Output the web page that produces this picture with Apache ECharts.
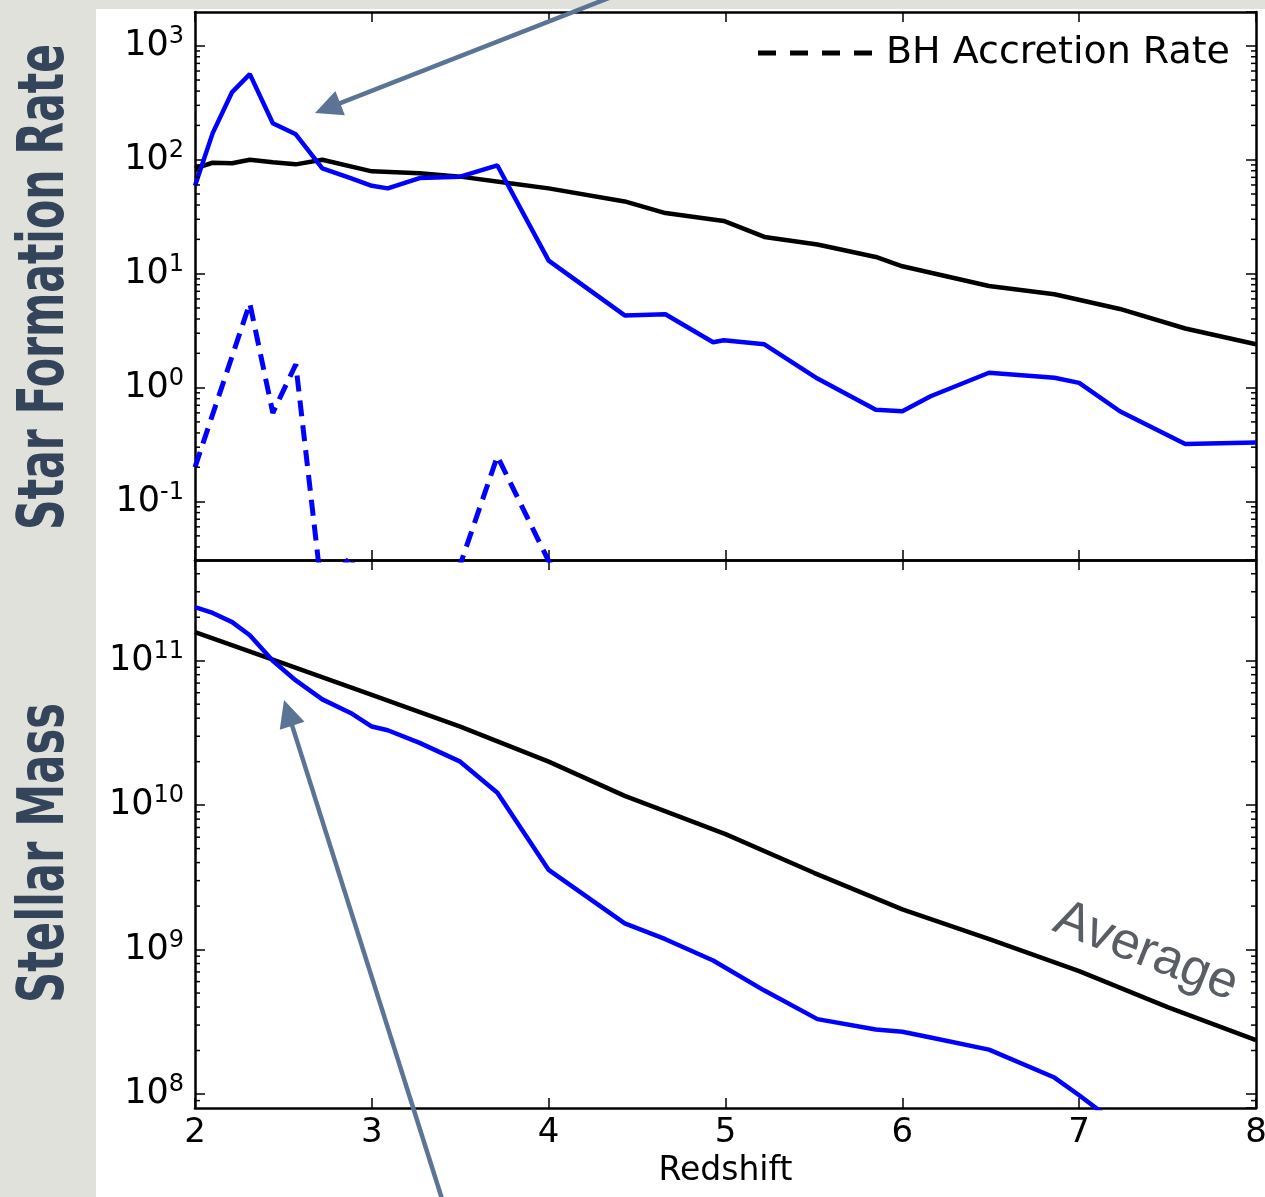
<!DOCTYPE html>
<html>
<head>
<meta charset="utf-8">
<script src="https://cdn.jsdelivr.net/npm/echarts@6/dist/echarts.min.js"></script>
<style>
  html, body { margin: 0; padding: 0; background: #ffffff; overflow: hidden; }
  #chart { width: 1265px; height: 1197px; }
</style>
</head>
<body>
<div id="chart"></div>
<script>
// ---------------- data ----------------
const sfrZ        = [2.0, 2.1, 2.21, 2.31, 2.44, 2.57, 2.72, 2.88, 3.0, 3.09, 3.27, 3.5, 3.71, 4.0, 4.43, 4.66, 4.93, 4.99, 5.22, 5.52, 5.85, 6.0, 6.16, 6.49, 6.86, 7.0, 7.23, 7.6, 8.0];
const sfrGalaxy   = [59, 171, 392, 563, 209, 167, 84, 69, 59, 56, 69, 71, 89, 13, 4.3, 4.4, 2.5, 2.6, 2.4, 1.2, 0.64, 0.62, 0.84, 1.35, 1.22, 1.1, 0.62, 0.32, 0.33];

const sfrAvgZ     = [2.0, 2.1, 2.21, 2.31, 2.44, 2.57, 2.72, 3.0, 3.27, 3.5, 3.78, 4.0, 4.43, 4.66, 4.99, 5.22, 5.52, 5.85, 6.0, 6.49, 6.86, 7.23, 7.6, 8.0];
const sfrAverage  = [84, 94, 93, 100, 95, 91, 100, 79, 76, 71, 62, 56, 43, 34, 29, 21, 18, 14, 11.6, 7.8, 6.6, 4.9, 3.3, 2.4];

const bhZ         = [2.0, 2.31, 2.44, 2.57, 2.72, 2.88, 3.0, 3.27, 3.5, 3.71, 4.0, 4.43];
const bhAccretion = [0.2, 5.5, 0.6, 1.6, 0.015, 0.033, 0.008, 0.004, 0.028, 0.25, 0.03, 0.003];

const massZ       = [2.0, 2.1, 2.21, 2.31, 2.44, 2.57, 2.72, 2.88, 3.0, 3.09, 3.27, 3.5, 3.71, 4.0, 4.43, 4.66, 4.93, 5.22, 5.52, 5.85, 6.0, 6.16, 6.49, 6.86, 7.0, 7.23];
const massGalaxy  = [2.35e11, 2.14e11, 1.85e11, 1.5e11, 1.0e11, 7.3e10, 5.4e10, 4.35e10, 3.5e10, 3.3e10, 2.7e10, 2.0e10, 1.22e10, 3.56e9, 1.52e9, 1.18e9, 8.4e8, 5.2e8, 3.3e8, 2.8e8, 2.7e8, 2.46e8, 2.03e8, 1.3e8, 9.8e7, 6e7];

const massAvgZ    = [2.0, 2.5, 3.0, 3.5, 4.0, 4.43, 5.0, 5.5, 6.0, 6.5, 7.0, 7.5, 8.0];
const massAverage = [1.58e11, 9.6e10, 5.8e10, 3.5e10, 2.0e10, 1.16e10, 6.3e9, 3.4e9, 1.9e9, 1.17e9, 7.1e8, 4.0e8, 2.36e8];

// axis ranges and ticks
const Z_MIN = 2, Z_MAX = 8;
const xTickLabels   = ['2', '3', '4', '5', '6', '7', '8'];
const sfrRange      = [0.0307, 1977];
const massRange     = [8.0e7, 4.98e11];
const sfrTickExps   = [-1, 0, 1, 2, 3];
const massTickExps  = [8, 9, 10, 11];
const minorMult     = [2, 3, 4, 5, 6, 7, 8, 9];
const sfrMinorDecs  = [-2, -1, 0, 1, 2, 3];
const massMinorDecs = [7, 8, 9, 10, 11];

const seriesNames = { bh: 'BH Accretion Rate' };
const panelLabels = ['Star Formation Rate', 'Stellar Mass'];
const averageLabel = 'Average';
const xName = 'Redshift';

// ---------------- helpers ----------------
const pairs = (xs, ys) => xs.map((x, i) => [x, ys[i]]);
const minorVals = (decs, range) => {
  const out = [];
  decs.forEach(d => minorMult.forEach(m => {
    const v = m * Math.pow(10, d);
    if (v > range[0] && v < range[1]) out.push([Z_MIN, v]);
  }));
  return out;
};

const FONT = 'DejaVu Sans';
const labelFmt = (exps) => (v) => {
  const l = Math.log10(v);
  const e = Math.round(l);
  if (Math.abs(l - e) > 1e-6 || exps.indexOf(e) < 0) return '';
  return '{b|10}{s|' + e + '}';
};
const richLab = {
  b: { fontSize: 35, fontFamily: FONT, color: '#000', lineHeight: 42 },
  s: { fontSize: 24, fontFamily: FONT, color: '#000', lineHeight: 24, verticalAlign: 'top' }
};

const axisLine = { show: true, lineStyle: { color: '#000', width: 2.5 } };
const tick = { show: true, inside: true, length: 10, lineStyle: { color: '#000', width: 1.5 } };

function xAx(grid, pos, showLabel, name) {
  return {
    type: 'value', gridIndex: grid, position: pos, min: Z_MIN, max: Z_MAX, interval: 1,
    axisLine, axisTick: tick, splitLine: { show: false },
    axisLabel: {
      show: showLabel, fontSize: 34, fontFamily: FONT, color: '#000', margin: 8,
      formatter: (v) => xTickLabels[Math.round(v - Z_MIN)] || ''
    },
    name: name || '', nameLocation: 'middle', nameGap: 47,
    nameTextStyle: { fontSize: 33, fontFamily: FONT, color: '#000' }
  };
}
function yAx(grid, pos, range, exps, showLabel) {
  return {
    type: 'log', logBase: 10, gridIndex: grid, position: pos, min: range[0], max: range[1],
    axisLine, axisTick: tick, splitLine: { show: false },
    axisLabel: {
      show: showLabel, showMinLabel: false, showMaxLabel: false, margin: 11,
      formatter: labelFmt(exps), rich: richLab
    }
  };
}

function minorTickRender(params, api) {
  const p = api.coord([api.value(0), api.value(1)]);
  const cs = params.coordSys;
  const st = { stroke: '#000', lineWidth: 1.5 };
  return {
    type: 'group', children: [
      { type: 'line', shape: { x1: cs.x, y1: p[1], x2: cs.x + 5, y2: p[1] }, style: st },
      { type: 'line', shape: { x1: cs.x + cs.width - 5, y1: p[1], x2: cs.x + cs.width, y2: p[1] }, style: st }
    ]
  };
}

// fit rotated side-label text to a target length
function fitScale(text, font, target) {
  const c = document.createElement('canvas').getContext('2d');
  c.font = font;
  const w = c.measureText(text).width;
  return w > 0 ? target / w : 1;
}
const sideFont = 'bold 64px "Liberation Sans Narrow", "DejaVu Sans Condensed", "Liberation Sans", sans-serif';

function arrow(tail, tip, headLen, headW, lw, color) {
  const dx = tip[0] - tail[0], dy = tip[1] - tail[1];
  const L = Math.hypot(dx, dy), ux = dx / L, uy = dy / L;
  const bx = tip[0] - ux * headLen, by = tip[1] - uy * headLen;
  const px = -uy, py = ux;
  return [
    { type: 'line', z: 50, shape: { x1: tail[0], y1: tail[1], x2: bx + ux * 4, y2: by + uy * 4 },
      style: { stroke: color, lineWidth: lw } },
    { type: 'polygon', z: 50, shape: { points: [tip, [bx + px * headW / 2, by + py * headW / 2], [bx - px * headW / 2, by - py * headW / 2]] },
      style: { fill: color } }
  ];
}

const ARROW = '#5b7496';
const BG = '#e1e1dc';
const SIDE = '#34445b';

// ---------------- chart ----------------
const chart = echarts.init(document.getElementById('chart'), null, { renderer: 'canvas' });
const gridBase = { left: 195, right: 9, height: 548, show: false, containLabel: false, outerBoundsMode: 'none' };
const option = {
  animation: false,
  backgroundColor: '#ffffff',
  grid: [
    Object.assign({ top: 12 }, gridBase),
    Object.assign({ top: 560 }, gridBase)
  ],
  xAxis: [
    xAx(0, 'bottom', false),
    xAx(0, 'top', false),
    xAx(1, 'bottom', true, xName),
    xAx(1, 'top', false)
  ],
  yAxis: [
    yAx(0, 'left', sfrRange, sfrTickExps, true),
    yAx(0, 'right', sfrRange, sfrTickExps, false),
    yAx(1, 'left', massRange, massTickExps, true),
    yAx(1, 'right', massRange, massTickExps, false)
  ],
  legend: {
    right: 30, top: 29, itemWidth: 120, itemHeight: 20, padding: 5,
    selectedMode: false,
    textStyle: { fontSize: 38, fontFamily: FONT, color: '#000', padding: [0, 0, 0, 3] },
    data: [{ name: seriesNames.bh, lineStyle: { color: '#000', width: 5, type: [18, 14] }, itemStyle: { color: '#000', opacity: 0 } }]
  },
  series: [
    { type: 'line', name: 'SFR average', xAxisIndex: 0, yAxisIndex: 0, data: pairs(sfrAvgZ, sfrAverage),
      symbol: 'none', lineStyle: { color: '#000', width: 4.5 }, z: 3 },
    { type: 'line', name: 'SFR galaxy', xAxisIndex: 0, yAxisIndex: 0, data: pairs(sfrZ, sfrGalaxy),
      symbol: 'none', lineStyle: { color: '#0000ff', width: 4.5 }, z: 4 },
    { type: 'line', name: seriesNames.bh, xAxisIndex: 0, yAxisIndex: 0, data: pairs(bhZ, bhAccretion),
      symbol: 'none', lineStyle: { color: '#0000ff', width: 5, type: [16, 9] }, itemStyle: { color: '#0000ff' }, z: 4 },
    { type: 'line', name: 'Mass average', xAxisIndex: 2, yAxisIndex: 2, data: pairs(massAvgZ, massAverage),
      symbol: 'none', lineStyle: { color: '#000', width: 4.5 }, z: 3 },
    { type: 'line', name: 'Mass galaxy', xAxisIndex: 2, yAxisIndex: 2, data: pairs(massZ, massGalaxy),
      symbol: 'none', lineStyle: { color: '#0000ff', width: 4.5 }, z: 4 },
    { type: 'custom', xAxisIndex: 0, yAxisIndex: 0, silent: true, z: 5, renderItem: minorTickRender,
      data: minorVals(sfrMinorDecs, sfrRange) },
    { type: 'custom', xAxisIndex: 2, yAxisIndex: 2, silent: true, z: 5, renderItem: minorTickRender,
      data: minorVals(massMinorDecs, massRange) }
  ],
  graphic: [
    { type: 'rect', z: 1, silent: true, shape: { x: 0, y: 0, width: 96, height: 1197 }, style: { fill: BG } },
    { type: 'rect', z: 1, silent: true, shape: { x: 96, y: 0, width: 1169, height: 9 }, style: { fill: BG } },
    { type: 'text', z: 2, x: 46, y: 287, rotation: Math.PI / 2,
      scaleX: fitScale(panelLabels[0], sideFont, 486),
      style: { text: panelLabels[0], font: sideFont, fill: SIDE, align: 'center', verticalAlign: 'middle' } },
    { type: 'text', z: 2, x: 46, y: 853, rotation: Math.PI / 2,
      scaleX: fitScale(panelLabels[1], sideFont, 300),
      style: { text: panelLabels[1], font: sideFont, fill: SIDE, align: 'center', verticalAlign: 'middle' } },
    { type: 'text', z: 40, x: 1146, y: 952, rotation: -0.375,
      style: { text: averageLabel, font: '52px "Liberation Sans", Arial, sans-serif', fill: '#595e65', align: 'center', verticalAlign: 'middle' } },
    ...arrow([619, -6], [315, 113], 27, 26, 4.5, ARROW),
    ...arrow([443, 1202], [284, 700], 27, 26, 4.5, ARROW)
  ]
};
chart.setOption(option);
</script>
</body>
</html>
